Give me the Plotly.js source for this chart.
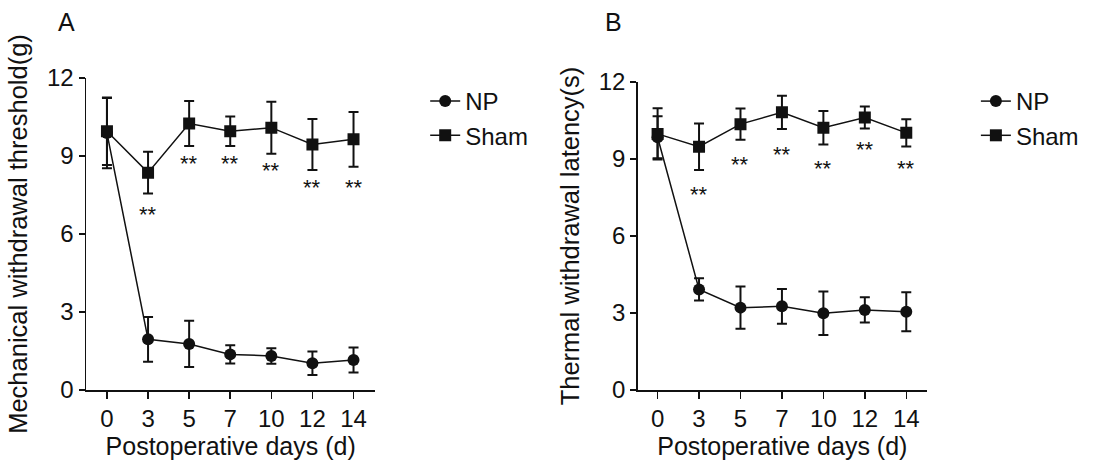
<!DOCTYPE html>
<html>
<head>
<meta charset="utf-8">
<script src="https://cdn.plot.ly/plotly-3.0.1.min.js"></script>
<style>html,body{margin:0;padding:0;background:#fff;}#chart{width:1096px;height:464px;}</style>
</head>
<body>
<div id="chart"></div>
<script>
var days = ['0', '3', '5', '7', '10', '12', '14'];

var mechNP = [9.88, 1.95, 1.77, 1.37, 1.31, 1.03, 1.15];
var mechNPErr = [1.35, 0.86, 0.89, 0.35, 0.30, 0.45, 0.48];
var mechSham = [9.95, 8.36, 10.25, 9.95, 10.09, 9.44, 9.64];
var mechShamErr = [1.30, 0.80, 0.87, 0.57, 1.00, 0.98, 1.05];
var mechStars = [null, 6.92, 8.87, 8.87, 8.59, 7.95, 7.95];

var thermNP = [9.85, 3.92, 3.21, 3.26, 2.99, 3.12, 3.05];
var thermNPErr = [0.82, 0.43, 0.82, 0.68, 0.85, 0.49, 0.76];
var thermSham = [9.98, 9.48, 10.36, 10.82, 10.22, 10.62, 10.02];
var thermShamErr = [1.00, 0.91, 0.61, 0.65, 0.65, 0.43, 0.53];
var thermStars = [null, 7.79, 8.96, 9.35, 8.77, 9.51, 8.77];

var yTicks = [0, 3, 6, 9, 12];
var starLabel = '**';

var FONT = 'Liberation Sans, Arial, sans-serif';
var INK = '#111';

function series(x, y, err, name, symbol, xa, ya, legend) {
  return {
    type: 'scatter', mode: 'lines+markers', x: x, y: y, name: name,
    xaxis: xa, yaxis: ya, legend: legend,
    line: {color: INK, width: 1.5},
    marker: {symbol: symbol, size: 12, color: INK},
    error_y: {type: 'data', array: err, visible: true, color: INK, thickness: 2, width: 5}
  };
}

var traces = [
  series(days, mechNP, mechNPErr, 'NP', 'circle', 'x', 'y', 'legend'),
  series(days, mechSham, mechShamErr, 'Sham', 'square', 'x', 'y', 'legend'),
  series(days, thermNP, thermNPErr, 'NP', 'circle', 'x2', 'y2', 'legend2'),
  series(days, thermSham, thermShamErr, 'Sham', 'square', 'x2', 'y2', 'legend2')
];

var annotations = [];
function addStars(stars, xref, yref) {
  stars.forEach(function (v, i) {
    if (v === null) return;
    annotations.push({x: i, y: v, xref: xref, yref: yref, text: starLabel,
      showarrow: false, xanchor: 'center', yanchor: 'middle', yshift: -4,
      font: {family: FONT, size: 22, color: INK}});
  });
}
addStars(mechStars, 'x', 'y');
addStars(thermStars, 'x2', 'y2');
annotations.push({x: (66 - 86) / 843, y: (390 - 22) / 312, xref: 'paper', yref: 'paper', text: 'A',
  showarrow: false, xanchor: 'center', yanchor: 'middle', font: {family: FONT, size: 25, color: INK}});
annotations.push({x: (615 - 86) / 843, y: (390 - 22) / 312, xref: 'paper', yref: 'paper', text: 'B',
  showarrow: false, xanchor: 'center', yanchor: 'middle', font: {family: FONT, size: 25, color: INK}});

function xAxis(domain, range, anchor) {
  return {
    domain: domain, anchor: anchor, type: 'category', range: range,
    showline: true, linecolor: INK, linewidth: 1.5, showgrid: false, zeroline: false,
    ticks: 'outside', ticklen: 7, tickwidth: 1.5, tickcolor: INK,
    tickfont: {family: FONT, size: 24, color: INK},
    title: {text: 'Postoperative days (d)', font: {family: FONT, size: 25, color: INK}, standoff: 4}
  };
}
function yAxis(domain, anchor, title) {
  return {
    domain: domain, anchor: anchor, range: [0, 12], tickvals: yTicks,
    showline: true, linecolor: INK, linewidth: 1.5, showgrid: false, zeroline: false,
    ticks: 'outside', ticklen: 6, tickwidth: 1.5, tickcolor: INK,
    tickfont: {family: FONT, size: 24, color: INK},
    title: {text: title, font: {family: FONT, size: 25.5, color: INK}, standoff: 12}
  };
}

var legendBase = {
  xanchor: 'left', yanchor: 'top', bgcolor: 'rgba(0,0,0,0)', borderwidth: 0,
  font: {family: FONT, size: 24, color: INK}, itemwidth: 30, tracegroupgap: 0
};

var layout = {
  width: 1096, height: 464,
  margin: {l: 86, r: 167, t: 78, b: 74},
  paper_bgcolor: '#fff', plot_bgcolor: '#fff',
  font: {family: FONT, color: INK},
  xaxis: xAxis([0, 0.344], [-0.51, 6.53], 'y'),
  yaxis: yAxis([0, 1], 'x', 'Mechanical withdrawal threshold(g)'),
  xaxis2: xAxis([0.656, 1], [-0.48, 6.5], 'y2'),
  yaxis2: yAxis([0, 0.987], 'x2', 'Thermal withdrawal latency(s)'),
  legend: Object.assign({}, legendBase, {x: (426 - 86) / 843, y: (390 - 79) / 312}),
  legend2: Object.assign({}, legendBase, {x: (978 - 86) / 843, y: (390 - 79) / 312}),
  annotations: annotations,
  showlegend: true
};

Plotly.newPlot('chart', traces, layout, {staticPlot: true, displayModeBar: false});
</script>
</body>
</html>
